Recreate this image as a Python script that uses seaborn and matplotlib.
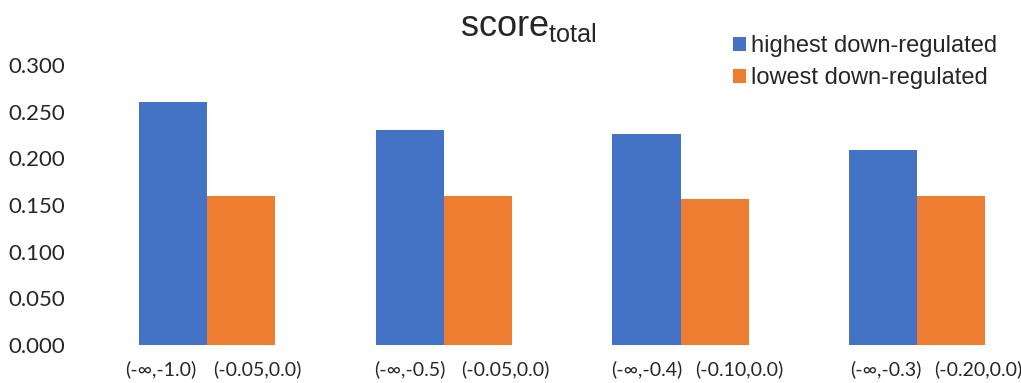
import matplotlib
matplotlib.use("Agg")
import matplotlib.pyplot as plt
import matplotlib.transforms as mtransforms
from matplotlib.patches import Patch
import seaborn as sns
import pandas as pd

# Данные
groups = ["A", "B", "C", "D"]
high_labels = ["(-∞,-1.0)", "(-∞,-0.5)", "(-∞,-0.4)", "(-∞,-0.3)"]
low_labels = ["(-0.05,0.0)", "(-0.05,0.0)", "(-0.10,0.0)", "(-0.20,0.0)"]
high_vals = [0.260, 0.231, 0.226, 0.209]
low_vals = [0.160, 0.160, 0.157, 0.160]
series = ["highest down-regulated", "lowest down-regulated"]
colors = ["#4472C4", "#ED7D31"]
y_ticks = [0, 0.05, 0.1, 0.15, 0.2, 0.25, 0.3]

df = pd.DataFrame({
    "group": groups * 2,
    "series": [series[0]] * 4 + [series[1]] * 4,
    "value": high_vals + low_vals,
    "label": high_labels + low_labels,
})

sns.set_style("white")
plt.rcParams["font.family"] = ["Lato", "DejaVu Sans"]
plt.rcParams["mathtext.fontset"] = "custom"
plt.rcParams["mathtext.rm"] = "Liberation Sans"

fig = plt.figure(figsize=(10.21, 3.83), dpi=100)
ax = fig.add_axes([0.078, 0.099, 0.911, 0.731])

sns.barplot(data=df, x="group", y="value", hue="series", palette=colors,
            saturation=1, width=0.575, linewidth=0, legend=False, ax=ax)

# Подписи под каждым столбцом
patches = [p for p in ax.patches if p.get_height() > 0]
centers = [p.get_x() + p.get_width() / 2 for p in patches]
ax.set_xticks(centers)
ax.set_xticklabels(df["label"].tolist(), fontsize=14)
ax.tick_params(axis="x", length=0, pad=11)

# небольшие сдвиги подписей, как в исходнике
shifts = [-12, 0, 0, 2, 16, 28, 25, 27]
for lbl, dx in zip(ax.get_xticklabels(), shifts):
    lbl.set_transform(lbl.get_transform() + mtransforms.ScaledTranslation(dx / 100, 0, fig.dpi_scale_trans))

ax.set_xlim(-0.537, 3.39)
ax.set_ylim(0, 0.3)
ax.set_yticks(y_ticks)
ax.set_yticklabels([f"{v:.3f}" for v in y_ticks], fontsize=16)
ax.tick_params(axis="y", length=0, pad=10.5)
ax.set_xlabel("")
ax.set_ylabel("")
sns.despine(ax=ax, left=True, bottom=True)

fig.text(0.518, 1 - 27 / 383, r"score$_{\mathrm{total}}$", ha="center", va="center",
         fontsize=26, family="Liberation Sans")

handles = [Patch(facecolor=c, edgecolor="none") for c in colors]
fig.legend(handles, series, loc="upper left", bbox_to_anchor=(0.709, 0.932),
           frameon=False, handlelength=0.55, handleheight=0.55,
           handletextpad=0.2, labelspacing=0.42, borderaxespad=0,
           prop={"family": "Liberation Sans", "size": 17})

plt.savefig("out.png", dpi=100)
